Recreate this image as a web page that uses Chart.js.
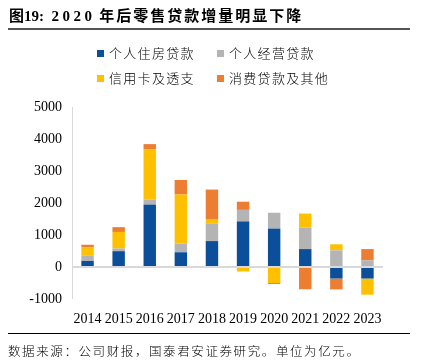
<!doctype html>
<html>
<head>
<meta charset="utf-8">
<title>Chart</title>
<script src="https://cdn.jsdelivr.net/npm/chart.js@4/dist/chart.umd.min.js"></script>
<style>
body { margin: 0; background: #fff; }
#wrap { position: relative; width: 427px; height: 362px; overflow: hidden; }
canvas { position: absolute; left: 0; top: 0; }
.cjk { font-family: "Noto Sans CJK SC", sans-serif; }
#title { position: absolute; left: 9px; top: 4px; font-size: 15px; font-weight: bold; white-space: nowrap; color: #000; }
#title .num { font-family: "Liberation Serif", serif; }
#rule1 { position: absolute; left: 8px; top: 28px; width: 402px; height: 2px; background: #555; }
#rule2 { position: absolute; left: 8px; top: 333px; width: 402px; height: 1px; background: #000; }
#source { position: absolute; left: 8px; top: 341px; font-size: 12.5px; font-weight: 300; letter-spacing: 1.6px; white-space: nowrap; color: #000; }
.lg { position: absolute; font-size: 13px; font-weight: 300; letter-spacing: 1.3px; white-space: nowrap; color: #000; line-height: 16px; }
.lg i { display: inline-block; width: 7px; height: 7px; margin-right: 5px; vertical-align: 1px; }
</style>
</head>
<body>
<div id="wrap">
	<canvas id="canvas" width="427" height="362"></canvas>
	<div id="title"><span class="cjk">图</span><span class="num">19:</span>&nbsp;&nbsp;<span class="num" style="letter-spacing:3.5px">2020</span>&nbsp;<span class="cjk" style="letter-spacing:2px">年后零售贷款增量明显下降</span></div>
	<div id="rule1"></div>
	<div id="legend"></div>
	<div id="rule2"></div>
	<div id="source" class="cjk">数据来源：公司财报，国泰君安证券研究。单位为亿元。</div>
</div>

<script>
	// 单位：亿元
	var years = ['2014', '2015', '2016', '2017', '2018', '2019', '2020', '2021', '2022', '2023'];
	var housing  = [190, 495, 1950, 460, 810, 1425, 1200, 560, -360, -360];
	var business = [160, 85, 160, 275, 540, 360, 495, 675, 520, 210];
	var cards    = [260, 515, 1570, 1530, 150, -140, -500, 435, 190, -505];
	var consumer = [85, 150, 160, 455, 920, 255, -30, -695, -340, 350];

	var seriesNames  = ['个人住房贷款', '个人经营贷款', '信用卡及透支', '消费贷款及其他'];
	var seriesColors = ['#0b4f9b', '#b4b4b4', '#ffc000', '#ed7d31'];
	var seriesData   = [housing, business, cards, consumer];

	// legend in two rows like the source
	var legendPos = [[97, 45], [217, 45], [97, 70], [217, 70]];
	var legend = document.getElementById('legend');
	seriesNames.forEach(function(name, i) {
		var d = document.createElement('div');
		d.className = 'lg cjk';
		d.style.left = legendPos[i][0] + 'px';
		d.style.top = legendPos[i][1] + 'px';
		d.innerHTML = '<i style="background:' + seriesColors[i] + '"></i>' + name;
		legend.appendChild(d);
	});

	var datasets = seriesData.map(function(arr, i) {
		return {
			label: seriesNames[i],
			data: arr,
			backgroundColor: seriesColors[i],
			borderWidth: 0,
			barPercentage: 0.4,
			categoryPercentage: 1.0
		};
	});

	var tickFont = { family: 'Liberation Serif', size: 14 };

	var ctx = document.getElementById('canvas').getContext('2d');
	window.myBar = new Chart(ctx, {
		type: 'bar',
		data: { labels: years, datasets: datasets },
		options: {
			responsive: false,
			animation: false,
			layout: { padding: { left: 0, right: 44, top: 107, bottom: 35 } },
			plugins: {
				legend: { display: false },
				tooltip: { enabled: false }
			},
			scales: {
				x: {
					stacked: true,
					grid: { display: false },
					border: { display: false },
					ticks: { font: tickFont, color: '#000', padding: 4, autoSkip: false, maxRotation: 0 },
					afterFit: function(scale) { scale.height = 28; }
				},
				y: {
					stacked: true,
					min: -1000,
					max: 5000,
					border: { display: true, color: '#d9d9d9', width: 1 },
					grid: {
						drawTicks: false,
						color: function(c) { return c.tick && c.tick.value === 0 ? '#d9d9d9' : 'rgba(0,0,0,0)'; },
						lineWidth: function(c) { return c.tick && c.tick.value === 0 ? 2 : 0; }
					},
					ticks: {
						stepSize: 1000,
						font: tickFont,
						color: '#000',
						padding: 10,
						callback: function(v) { return v; }
					},
					afterFit: function(scale) { scale.width = 72; }
				}
			}
		}
	});
</script>
</body>
</html>
